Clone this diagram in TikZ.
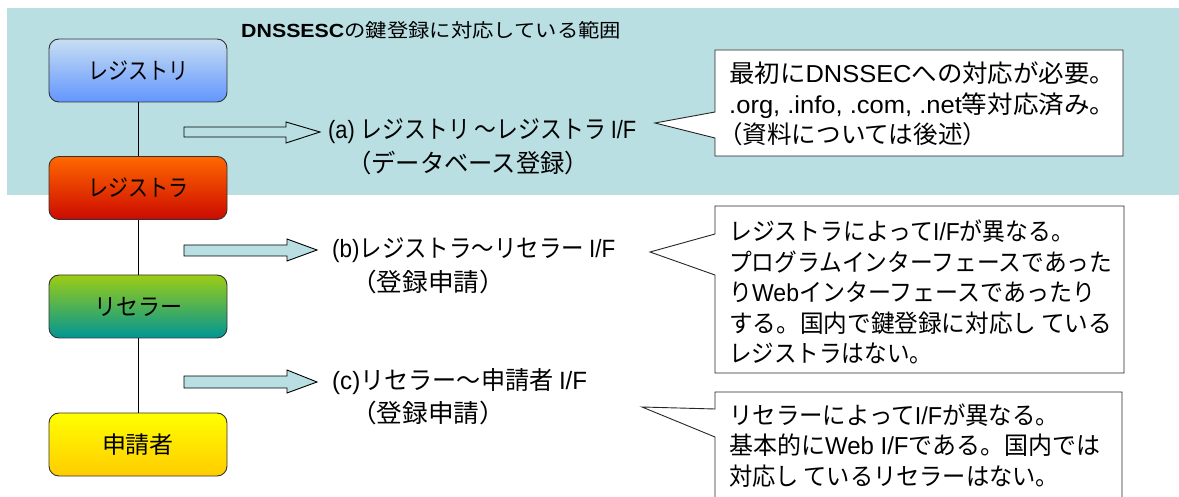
\documentclass[tikz,border=0pt]{standalone}
\usepackage{graphicx}
\usepackage{fontspec}
\setmainfont{Noto Sans CJK JP}
\newfontfamily\lat{Liberation Sans}
\newcommand\fitto[2]{\resizebox{#1}{\height}{#2}}
\definecolor{band}{RGB}{185,223,227}
\definecolor{regtop}{RGB}{200,222,242}
\definecolor{regbot}{RGB}{98,150,255}
\definecolor{rartop}{RGB}{255,104,0}
\definecolor{rarbot}{RGB}{204,10,0}
\definecolor{restop}{RGB}{156,204,20}
\definecolor{resbot}{RGB}{0,150,150}
\definecolor{apptop}{RGB}{255,255,0}
\definecolor{appbot}{RGB}{255,204,0}
\begin{document}
\begin{tikzpicture}[x=1pt,y=-1pt,
  stagebox/.style={draw=black!80, line width=0.9pt, rounded corners=10pt,
    minimum width=178pt, minimum height=63pt, inner sep=0pt,
    font=\fontsize{23.5}{26}\selectfont},
  conn/.style={draw=black, line width=0.9pt},
  blockarrow/.style={draw=black, line width=0.9pt, line join=miter},
  callout/.style={draw=black!85, fill=white, line width=0.9pt, line join=miter},
  lbl/.style={anchor=west, inner sep=0pt, font=\fontsize{25}{28}\selectfont},
  note/.style={anchor=west, inner sep=0pt, align=left, font=\fontsize{24.5}{30.5}\selectfont},
  ttl/.style={anchor=west, inner sep=0pt, font=\fontsize{19}{22}\selectfont}]
\useasboundingbox (0,0) rectangle (1179,497);
\clip (0,0) rectangle (1179,497);
\fill[white] (0,0) rectangle (1179,497);
% band
\fill[band] (7,8) rectangle (1179,195);
\node[ttl] (title) at (241,30) {\fitto{380pt}{{\lat\bfseries DNSSESC}の鍵登録に対応している範囲}};

% stage boxes
\node[stagebox, top color=regtop, bottom color=regbot] (reg) at (138,70.5) {\fitto{100pt}{レジストリ}};
\node[stagebox, top color=rartop, bottom color=rarbot] (rar) at (138,188) {\fitto{100pt}{レジストラ}};
\node[stagebox, top color=restop, bottom color=resbot] (res) at (138,306.5) {\fitto{88pt}{リセラー}};
\node[stagebox, top color=apptop, bottom color=appbot] (app) at (138,444.5) {\fitto{72pt}{申請者}};
\draw[conn] (reg) -- (rar);
\draw[conn] (rar) -- (res);
\draw[conn] (res) -- (app);

% block arrows
\draw[blockarrow, fill=band] (184,127) -- (286,127) -- (286,122) -- (320,132) -- (286,143) -- (286,137) -- (184,137) -- cycle;
\draw[blockarrow, fill=band] (184,245) -- (287,245) -- (287,239) -- (317,250) -- (287,261) -- (287,256) -- (184,256) -- cycle;
\draw[blockarrow, fill=band] (184,376) -- (287,376) -- (287,370) -- (317,382) -- (287,393) -- (287,388) -- (184,388) -- cycle;

% labels
\node[lbl] (la1) at (328,131) {\fitto{308pt}{{\lat (a) }レジストリ ～レジストラ {\lat I/F}}};
\node[lbl] (la2) at (347,163) {\fitto{242pt}{（データベース登録）}};
\node[lbl] (lb1) at (332,250) {\fitto{283pt}{{\lat (b)}レジストラ～リセラー {\lat I/F}}};
\node[lbl] (lb2) at (351,282) {\fitto{154pt}{（登録申請）}};
\node[lbl] (lc1) at (332,382) {\fitto{255pt}{{\lat (c)}リセラー～申請者 {\lat I/F}}};
\node[lbl] (lc2) at (351,413) {\fitto{154pt}{（登録申請）}};

% callouts
\draw[callout] (715,50) -- (1123,50) -- (1123,156) -- (715,156) -- (715,138) -- (655,123) -- (715,112) -- cycle;
\draw[callout] (715,206) -- (1124,206) -- (1124,373) -- (715,373) -- (715,275) -- (650,252) -- (715,234) -- cycle;
\draw[callout] (715,392) -- (1122,392) -- (1122,520) -- (715,520) -- (715,437) -- (642,407) -- (715,409) -- cycle;

\node[note] (n1) at (729,104) {\fitto{386pt}{最初に{\lat DNSSEC}への対応が必要。}\\
\fitto{386pt}{{\lat .org, .info, .com, .net}等対応済み。}\\
\fitto{258pt}{\kern-0.45em（資料については後述）}};
\node[note] (n2) at (729,292) {\fitto{345pt}{レジストラによって{\lat I/F}が異なる。}\\
\fitto{383pt}{プログラムインターフェースであった}\\
\fitto{366pt}{り{\lat Web}インターフェースであったり}\\
\fitto{383pt}{する。国内で鍵登録に対応し\hspace{0.2em}ている}\\
\fitto{203pt}{レジストラはない。}};
\node[note] (n3) at (729,445.5) {\fitto{330pt}{リセラーによって{\lat I/F}が異なる。}\\
\fitto{371pt}{基本的に{\lat Web I/F}である。国内では}\\
\fitto{330pt}{対応し\hspace{0.2em}ているリセラーはない。}};
\end{tikzpicture}
\end{document}
